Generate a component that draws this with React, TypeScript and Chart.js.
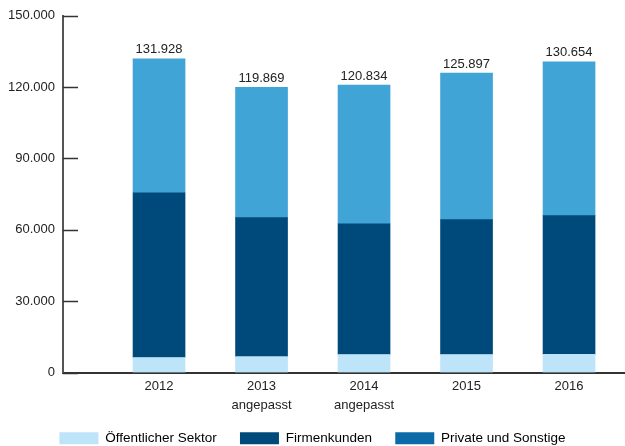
import React, { useEffect, useRef } from "react";
import { Chart, registerables } from "chart.js";

Chart.register(...registerables);

const categories: string[][] = [["2012"], ["2013", "angepasst"], ["2014", "angepasst"], ["2015"], ["2016"]];
const seriesNames = ["Öffentlicher Sektor", "Firmenkunden", "Private und Sonstige"];
const oeffentlich = [6300, 6700, 7560, 7560, 7600];
const firmenkunden = [69300, 58400, 55000, 56700, 58400];
const private_ = [56328, 54769, 58274, 61637, 64654];
const totals = [131928, 119869, 120834, 125897, 130654];
const yTicks = [0, 30000, 60000, 90000, 120000, 150000];

const barColors = ["#bde4f8", "#004a7b", "#40a4d7"];
const legendColors = ["#bde4f8", "#004a7b", "#0d6aa9"];

const fmt = (v: number) => String(Math.round(v)).replace(/\B(?=(\d{3})+(?!\d))/g, ".");

const FONT = "'Liberation Sans', Arial, sans-serif";

export default function App() {
  const ref = useRef<HTMLCanvasElement | null>(null);
  useEffect(() => {
    document.body.style.margin = "0";
    const ctx = ref.current!;
    const valueLabels = {
      id: "valueLabels",
      afterDatasetsDraw(chart: any) {
        const c = chart.ctx;
        const meta = chart.getDatasetMeta(2);
        c.save();
        c.font = `13px ${FONT}`;
        c.fillStyle = "#222";
        c.textAlign = "center";
        c.textBaseline = "middle";
        meta.data.forEach((el: any, i: number) => {
          c.fillText(fmt(totals[i]), el.x, el.y - 9);
        });
        // inward y tick marks
        const ys = chart.scales.y;
        const left = chart.chartArea.left;
        c.strokeStyle = "#333";
        c.lineWidth = 1.5;
        ys.ticks.forEach((t: any) => {
          const py = Math.round(ys.getPixelForValue(t.value)) + 0.5;
          c.beginPath();
          c.moveTo(left, py);
          c.lineTo(left + 15, py);
          c.stroke();
        });
        c.restore();
      },
    };
    const mk = (i: number, vals: number[]) => ({
      label: seriesNames[i],
      data: vals.map((v, k) => ({ x: k, y: v })),
      backgroundColor: barColors[i],
      borderWidth: 0,
      barThickness: 52,
    });
    const chart = new Chart(ctx, {
      type: "bar",
      data: {
        datasets: [mk(0, oeffentlich), mk(1, firmenkunden), mk(2, private_)],
      },
      options: {
        animation: false,
        responsive: true,
        maintainAspectRatio: false,
        layout: { padding: { top: 8, right: 0, left: 0, bottom: -9 } },
        plugins: {
          tooltip: { enabled: false },
          legend: {
            position: "bottom",
            labels: {
              boxWidth: 39,
              boxHeight: 12,
              padding: 12,
              color: "#222",
              font: { size: 13.5, family: FONT },
              generateLabels: () =>
                seriesNames.map((n, i) => ({
                  text: i < seriesNames.length - 1 ? n + "   " : n,
                  fillStyle: legendColors[i],
                  strokeStyle: legendColors[i],
                  lineWidth: 0,
                  hidden: false,
                  datasetIndex: i,
                })),
            },
          },
        },
        scales: {
          x: {
            type: "linear",
            stacked: true,
            min: -0.937,
            max: 4.546,
            offset: false,
            grid: { display: false, drawTicks: false },
            border: { display: true, color: "#333", width: 2 },
            afterBuildTicks: (axis: any) => {
              axis.ticks = categories.map((_, i) => ({ value: i }));
            },
            ticks: {
              padding: 4,
              color: "#222",
              maxRotation: 0,
              autoSkip: false,
              font: { size: 13, family: FONT, lineHeight: 1.5 },
              callback: (v: any) => categories[Math.round(Number(v))] ?? "",
            },
          },
          y: {
            stacked: true,
            min: 0,
            max: 150000,
            grid: { display: false, drawTicks: false },
            border: { display: true, color: "#555", width: 2 },
            afterBuildTicks: (axis: any) => {
              axis.ticks = yTicks.map((v) => ({ value: v }));
            },
            ticks: {
              padding: 8,
              color: "#222",
              font: { size: 13, family: FONT },
              callback: (v: any) => fmt(Number(v)),
            },
          },
        },
      },
      plugins: [valueLabels],
    } as any);
    return () => chart.destroy();
  }, []);
  return (
    <div style={{ width: 625, height: 446, position: "relative" }}>
      <canvas ref={ref} />
    </div>
  );
}
